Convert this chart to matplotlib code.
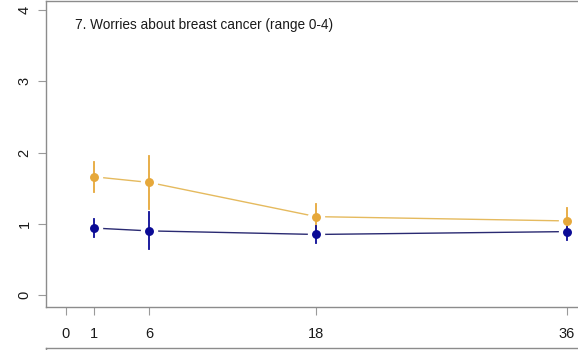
import matplotlib
matplotlib.use("Agg")
import matplotlib.pyplot as plt

# Follow-up visits (months) and where each one sits on the time axis
tick_months = ["0", "1", "6", "18", "36"]
tick_pos = [0, 2, 6, 18, 36]
visit_pos = [2, 6, 18, 36]

# Mean worry score with 95% interval, per group
orange_mean = [1.66, 1.58, 1.10, 1.04]
orange_lo = [1.45, 1.21, 0.93, 0.95]
orange_hi = [1.87, 1.95, 1.28, 1.22]

blue_mean = [0.94, 0.90, 0.85, 0.89]
blue_lo = [0.81, 0.64, 0.73, 0.77]
blue_hi = [1.06, 1.16, 0.97, 0.96]

title = "7. Worries about breast cancer (range 0-4)"
y_ticks = [0, 1, 2, 3, 4]

ORANGE = "#E6A83A"
ORANGE_LINE = "#E5BA5E"
BLUE = "#0B0B96"
BLUE_LINE = "#2A2A72"
AXIS_GREY = "#8C8C8C"

plt.rcParams["font.family"] = ["Liberation Sans", "DejaVu Sans"]

W, H = 578, 350
fig = plt.figure(figsize=(W / 100, H / 100), dpi=100)

left_px, top_px, bottom_px = 46, 1, 307
ax = fig.add_axes([left_px / W, (H - bottom_px) / H, (W - left_px) / W, (bottom_px - top_px) / H])
ax.set_xlim(-1.42, 36.8)
ax.set_ylim(-0.168, 4.126)


def draw_series(mean, lo, hi, color, line_color):
    ax.plot(visit_pos, mean, color=line_color, lw=1.0, zorder=1)
    # white halo gives the gapped "both" line look around each point
    ax.plot(visit_pos, mean, "o", ms=12.5, mfc="white", mec="none", zorder=2)
    for x, l, h in zip(visit_pos, lo, hi):
        ax.plot([x, x], [l, h], color=color, lw=1.3, zorder=3)
    ax.plot(visit_pos, mean, "o", ms=5.4, mfc=color, mec=color, zorder=4)


draw_series(orange_mean, orange_lo, orange_hi, ORANGE, ORANGE_LINE)
draw_series(blue_mean, blue_lo, blue_hi, BLUE, BLUE_LINE)

fig.text(75 / W, 1 - 25 / H, title, ha="left", va="center", fontsize=9.8, color="#1a1a1a")

ax.set_xticks(tick_pos)
ax.set_xticklabels(tick_months)
ax.set_yticks(y_ticks)
ax.set_yticklabels([str(v) for v in y_ticks], rotation=90, va="center")

for side in ("left", "bottom", "top"):
    ax.spines[side].set_color(AXIS_GREY)
    ax.spines[side].set_linewidth(1.0)
ax.spines["right"].set_visible(False)

ax.tick_params(axis="both", direction="out", length=5.5, width=0.8, color="#9A9A9A",
               labelsize=10.5, labelcolor="#1a1a1a")
ax.tick_params(axis="x", pad=9)
ax.tick_params(axis="y", pad=5)

# top edge of the next panel peeking in at the bottom
ax2 = fig.add_axes([left_px / W, -0.5, (W - left_px) / W, 0.5 + (H - 347.5) / H])
ax2.set_xticks([])
ax2.set_yticks([])
for side in ("right", "bottom"):
    ax2.spines[side].set_visible(False)
for side in ("left", "top"):
    ax2.spines[side].set_color(AXIS_GREY)
    ax2.spines[side].set_linewidth(1.0)

fig.savefig("out.png", dpi=100, facecolor="white")
